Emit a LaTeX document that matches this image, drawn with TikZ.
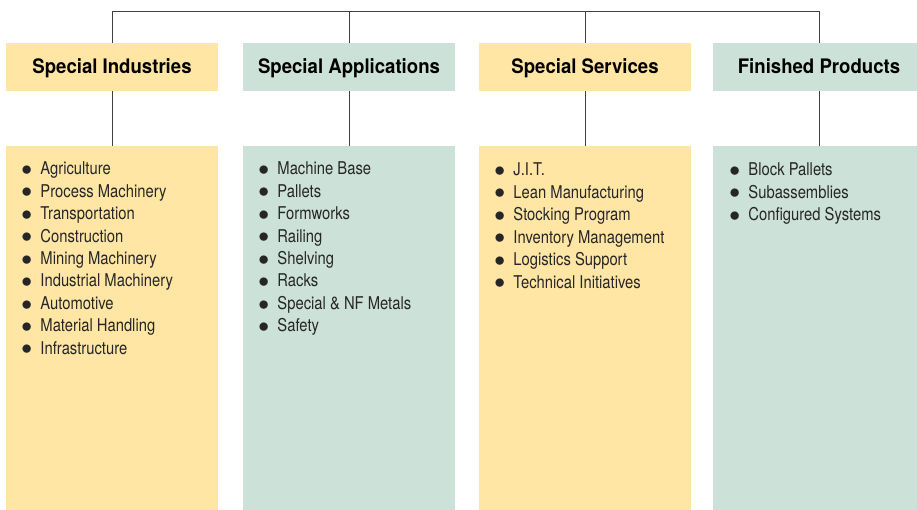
\documentclass[tikz,border=0pt]{standalone}
\usepackage{fontspec}
\setmainfont{TeX Gyre Heros}[FakeStretch=0.84]
\newfontfamily\headfont{TeX Gyre Heros}[FakeStretch=0.93]
\usetikzlibrary{positioning}
\definecolor{myyellow}{RGB}{255,230,165}
\definecolor{mygreen}{RGB}{204,225,216}
\definecolor{myline}{RGB}{64,64,64}
\newcommand{\mybullet}{\makebox[19pt][l]{\raisebox{-0.6pt}{\scalebox{1.25}{$\bullet$}}}}

\begin{document}
\begin{tikzpicture}
[x=1pt, y=-1pt, line width=0.9pt, draw=myline,
  myhead/.style={rectangle, minimum width=212pt, minimum height=48pt, inner sep=0pt,
    text height=16pt, text depth=2pt,
    font=\headfont\bfseries\fontsize{20}{22}\selectfont, text=black},
  mylist/.style={rectangle, minimum width=212pt, minimum height=364pt, inner sep=0pt, anchor=north},
  myitem/.style={anchor=base west, inner sep=0pt, font=\fontsize{17.6}{22}\selectfont, text=black!85}
]
  \clip (0,0) rectangle (917,510);
  \fill[white] (0,0) rectangle (917,510);

  % headers
  \node[myhead, fill=myyellow] (industries) at (112,67) {Special Industries};
  \node[myhead, fill=mygreen] (applications) at (349,67) {Special Applications};
  \node[myhead, fill=myyellow] (services) at (585,67) {Special Services};
  \node[myhead, fill=mygreen] (products) at (819,67) {Finished Products};

  % list boxes
  \node[mylist, fill=myyellow] (indlist) at (112,146) {};
  \node[mylist, fill=mygreen] (applist) at (349,146) {};
  \node[mylist, fill=myyellow] (serlist) at (585,146) {};
  \node[mylist, fill=mygreen] (prodlist) at (819,146) {};

  % connectors
  \coordinate (top) at (0,11);
  \draw (industries.north) -- (industries.north |- top) -- (products.north |- top) -- (products.north);
  \draw (applications.north) -- (applications.north |- top);
  \draw (services.north) -- (services.north |- top);
  \draw (industries.south) -- (indlist.north);
  \draw (applications.south) -- (applist.north);
  \draw (services.south) -- (serlist.north);
  \draw (products.south) -- (prodlist.north);

  % items
  \foreach \t [count=\i] in {Agriculture, Process Machinery, Transportation, Construction,
      Mining Machinery, Industrial Machinery, Automotive, Material Handling, Infrastructure}
    \node[myitem] (ind\i) at (21,{175+22.4*(\i-1)}) {\mybullet\t};
  \foreach \t [count=\i] in {Machine Base, Pallets, Formworks, Railing, Shelving, Racks,
      Special \& NF Metals, Safety}
    \node[myitem] (app\i) at (258,{175+22.4*(\i-1)}) {\mybullet\t};
  \foreach \t [count=\i] in {J.I.T., Lean Manufacturing, Stocking Program,
      Inventory Management, Logistics Support, Technical Initiatives}
    \node[myitem] (ser\i) at (494,{176+22.4*(\i-1)}) {\mybullet\t};
  \foreach \t [count=\i] in {Block Pallets, Subassemblies, Configured Systems}
    \node[myitem] (prod\i) at (729,{176+22.4*(\i-1)}) {\mybullet\t};
\end{tikzpicture}
\end{document}
